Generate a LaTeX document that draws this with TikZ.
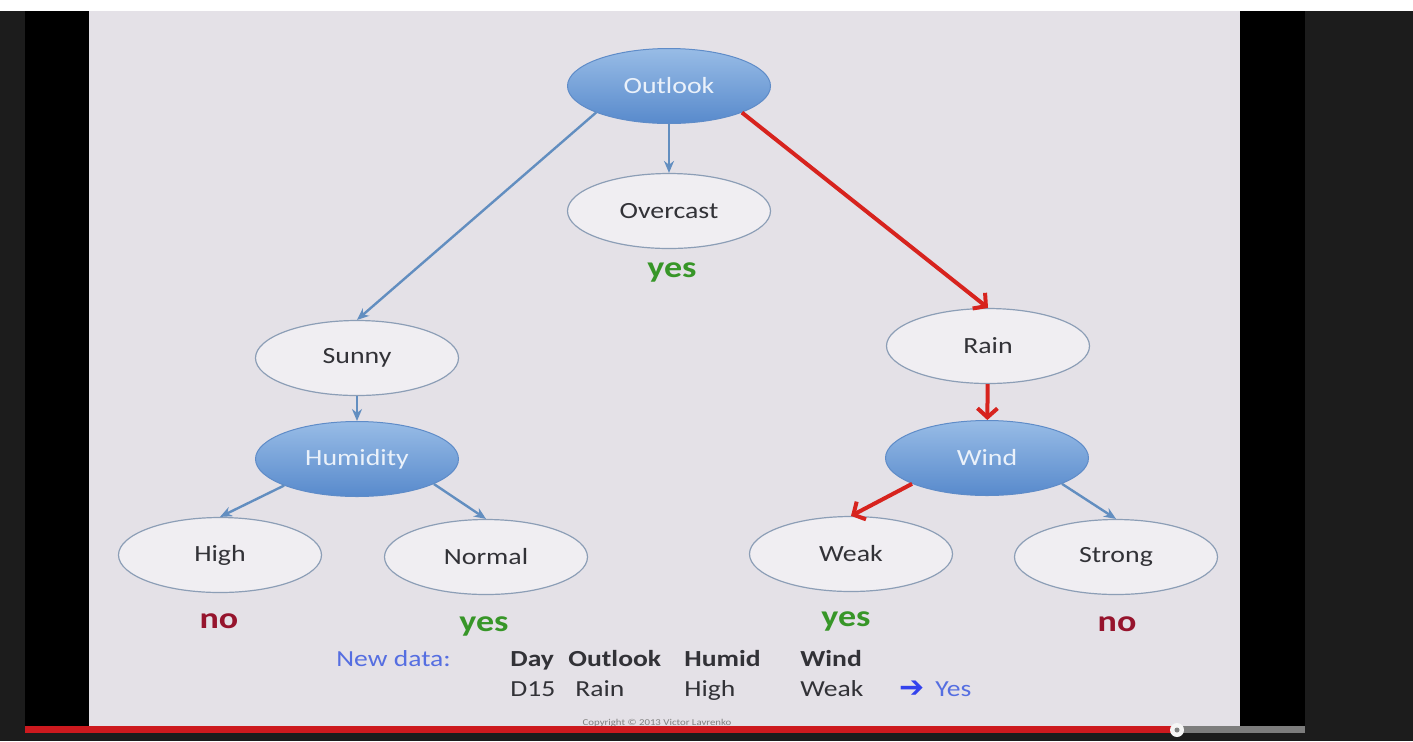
\documentclass[tikz,border=0pt]{standalone}
\usepackage{fontspec}
\setmainfont{Carlito}[FakeStretch=1.2]
\newfontfamily\symfont{DejaVu Sans}
\usepackage{xcolor}
\usepackage{tikz}
\usetikzlibrary{positioning, shapes, arrows.meta}

\definecolor{slidebg}{RGB}{228,225,231}
\definecolor{nodetop}{RGB}{152,188,230}
\definecolor{nodebot}{RGB}{88,138,204}
\definecolor{noderim}{RGB}{95,140,200}
\definecolor{edgeblue}{RGB}{98,142,192}
\definecolor{edgered}{RGB}{215,35,30}
\definecolor{rimgray}{RGB}{140,158,182}
\definecolor{yesgreen}{RGB}{55,150,40}
\definecolor{nored}{RGB}{150,20,45}
\definecolor{textgray}{RGB}{50,50,55}
\definecolor{datablue}{RGB}{85,110,225}
\definecolor{playerbg}{RGB}{28,28,28}
\definecolor{barred}{RGB}{205,25,30}
\definecolor{bargray}{RGB}{125,125,125}

\begin{document}
\begin{tikzpicture}[x=0.5pt, y=-0.5pt,
    attr/.style={ellipse, draw=noderim, line width=0.5pt, top color=nodetop, bottom color=nodebot,
      minimum width=101.5pt, minimum height=37.5pt, inner sep=0pt,
      text=white!80!nodetop, font=\fontsize{11.6}{14}\selectfont},
    val/.style={ellipse, draw=rimgray, line width=0.6pt, fill=white!45!slidebg,
      minimum width=101.5pt, minimum height=37.5pt, inner sep=0pt,
      text=textgray, font=\fontsize{11.6}{14}\selectfont},
    leafyes/.style={text=yesgreen, font=\fontsize{15}{18}\selectfont\bfseries},
    leafno/.style={text=nored, font=\fontsize{15}{18}\selectfont\bfseries},
    branch/.style={draw=edgeblue, line width=1.2pt, -{Stealth[length=6pt,width=5pt]}},
    taken/.style={draw=edgered, line width=2pt, -{Straight Barb[length=4.5pt,width=10pt]}},
    cell/.style={anchor=base west, inner sep=0pt, text=textgray, font=\fontsize{11.5}{14}\selectfont},
    headcell/.style={cell, font=\fontsize{11.5}{14}\selectfont\bfseries}]
  \useasboundingbox (0,0) rectangle (1413,741);

  % player frame
  \fill[white] (0,0) rectangle (1413,11);
  \fill[playerbg] (0,11) rectangle (1413,741);
  \fill[black] (25,11) rectangle (1305,726);
  \fill[slidebg] (89,11) rectangle (1240,726);

  % tree
  \node[attr] (outlook) at (669,86) {Outlook};
  \node[val] (overcast) at (669,211) {Overcast};
  \node[leafyes] (yes1) at (672,272) {yes};

  \node[val] (sunny) at (357,358) {Sunny};
  \node[attr] (humidity) at (357,459) {Humidity};
  \node[val] (high) at (220,555) {High};
  \node[val] (normal) at (486,557) {Normal};
  \node[leafno] (no1) at (219,621) {no};
  \node[leafyes] (yes2) at (484,626) {yes};

  \node[val] (rain) at (988,346) {Rain};
  \node[attr] (wind) at (987,458) {Wind};
  \node[val] (weak) at (851,554) {Weak};
  \node[val] (strong) at (1116,557) {Strong};
  \node[leafyes] (yes3) at (846,621) {yes};
  \node[leafno] (no2) at (1117,624) {no};

  \draw[branch] (outlook.200) -- (sunny.north);
  \draw[branch] (outlook) -- (overcast);
  \draw[taken] (outlook.-20) -- (rain.north);
  \draw[branch] (sunny) -- (humidity);
  \draw[branch] (humidity.200) -- (high.north);
  \draw[branch] (humidity.-18) -- (normal.north);
  \draw[taken] (rain) -- (wind);
  \draw[taken] (wind.199) -- (weak.north);
  \draw[branch] (wind.-19) -- (strong.north);

  % new data row
  \node[cell, text=datablue] (newdata) at (336,666) {New data:};
  \node[headcell] (hday) at (510,666) {Day};
  \node[headcell] (houtlook) at (568,666) {Outlook};
  \node[headcell] (hhumid) at (684,666) {Humid};
  \node[headcell] (hwind) at (800,666) {Wind};
  \node[cell] (dday) at (510,696) {D15};
  \node[cell] (doutlook) at (575,696) {Rain};
  \node[cell] (dhumid) at (684,696) {High};
  \node[cell] (dwind) at (800,696) {Weak};
  \node[cell, text=datablue!60!blue, font=\symfont\fontsize{15}{16}\selectfont] (darrow) at (899,697) {➔};
  \node[cell, text=datablue] (dclass) at (935,696) {Yes};

  \node[text=gray, font=\fontsize{4.5}{5}\selectfont] (copy) at (657,723) {Copyright © 2013 Victor Lavrenko};

  % progress bar
  \fill[barred] (25,726) rectangle (1177,733);
  \fill[bargray] (1177,726) rectangle (1305,733);
  \node[circle, fill=white!92!gray, minimum size=7pt, inner sep=0pt] (knob) at (1177,730) {};
  \node[circle, fill=gray, minimum size=2.5pt, inner sep=0pt] (knobdot) at (knob) {};
\end{tikzpicture}
\end{document}
